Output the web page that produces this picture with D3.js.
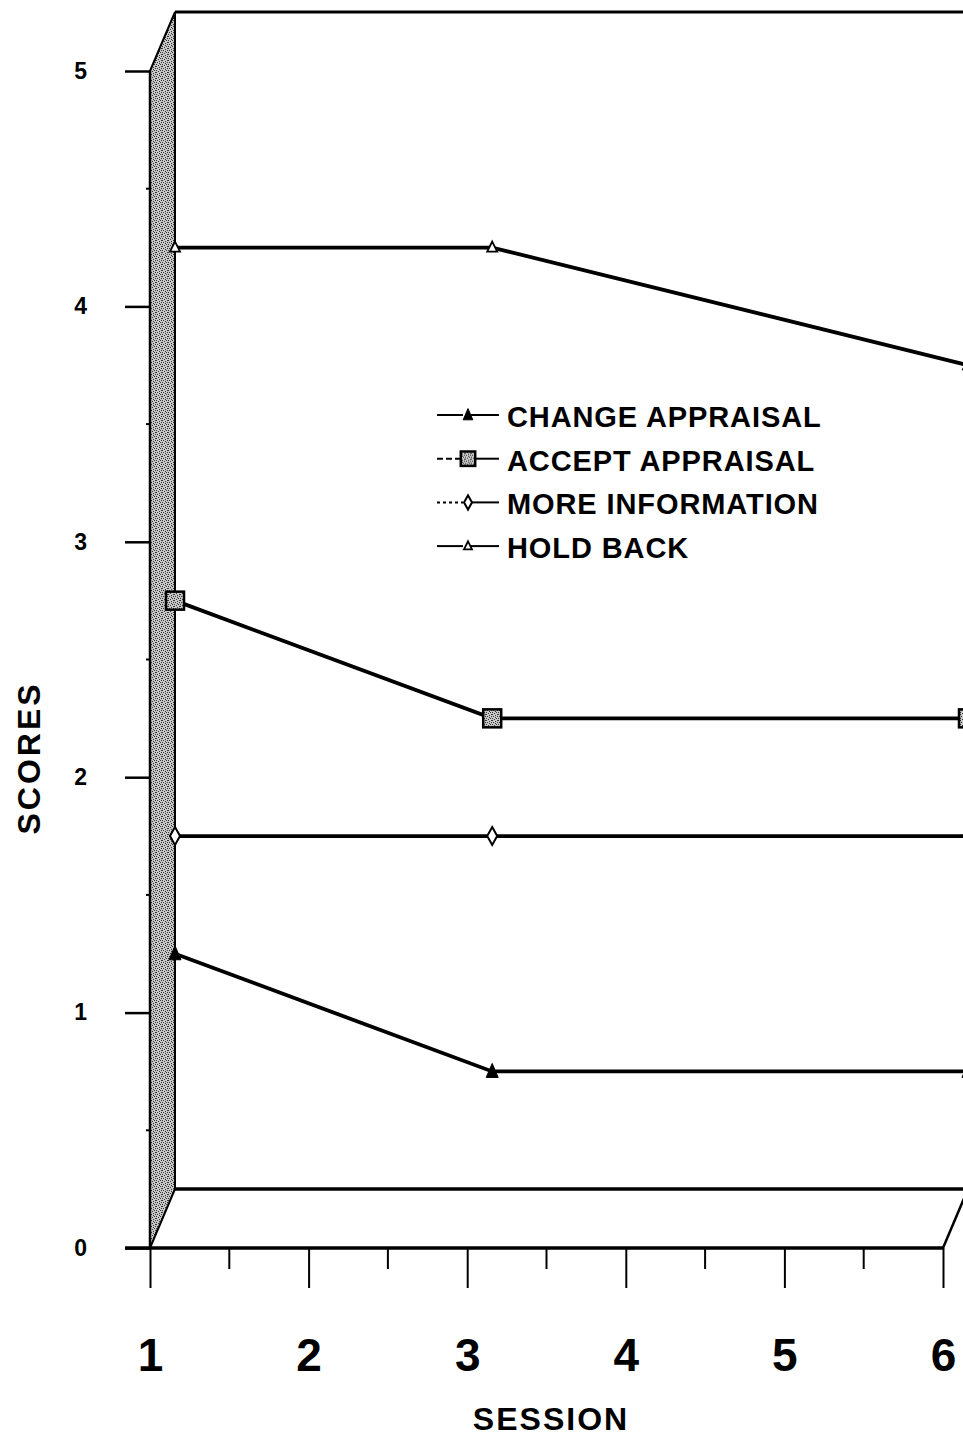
<!DOCTYPE html>
<html>
<head>
<meta charset="utf-8">
<script src="https://cdn.jsdelivr.net/npm/d3@7"></script>
<style>
  html, body { margin: 0; padding: 0; background: #fff; }
  svg { display: block; }
</style>
</head>
<body>
<script>
// Session numbers and mean scores for each response type
const sessions = [1, 3, 6];
const changeAppraisal = [1.25, 0.75, 0.75];
const acceptAppraisal = [2.75, 2.25, 2.25];
const moreInformation = [1.75, 1.75, 1.75];
const holdBack = [4.25, 4.25, 3.75];

const seriesNames = ["CHANGE APPRAISAL", "ACCEPT APPRAISAL", "MORE INFORMATION", "HOLD BACK"];
const xTickValues = [1, 2, 3, 4, 5, 6];
const yTickValues = [0, 1, 2, 3, 4, 5];

const W = 963, H = 1436;
const svg = d3.select("body").append("svg").attr("width", W).attr("height", H);
svg.append("rect").attr("width", W).attr("height", H).attr("fill", "#fff");

const x = d3.scaleLinear().domain([1, 6]).range([150, 943]);
const y = d3.scaleLinear().domain([0, 5]).range([1248, 71]);
// depth offset of the back plane
const DX = 25, DY = -59;

// speckled grey fill for the side wall and square markers
const defs = svg.append("defs");
const pat = defs.append("pattern").attr("id", "stipple")
  .attr("patternUnits", "userSpaceOnUse").attr("width", 6).attr("height", 6);
pat.append("rect").attr("width", 6).attr("height", 6).attr("fill", "#c8c8c8");
[[0,0],[3,1],[1,2],[5,2],[4,4],[2,5],[0,4],[3,3],[5,0]].forEach(([a,b]) =>
  pat.append("rect").attr("x", a).attr("y", b).attr("width", 1).attr("height", 1).attr("fill", "#333"));

const frame = svg.append("g").attr("fill", "none").attr("stroke", "#000");

// left side wall
frame.append("path")
  .attr("d", `M${x(1)},${y(5)} L${x(1)+DX},${y(5)+DY} L${x(1)+DX},${y(0)+DY} L${x(1)},${y(0)} Z`)
  .attr("fill", "url(#stipple)").attr("stroke-width", 2);

// back top edge and back floor edge
frame.append("line").attr("x1", x(1)+DX).attr("x2", W+10)
  .attr("y1", y(5)+DY).attr("y2", y(5)+DY).attr("stroke-width", 3);
frame.append("line").attr("x1", x(1)+DX).attr("x2", W+10)
  .attr("y1", y(0)+DY).attr("y2", y(0)+DY).attr("stroke-width", 3.5);
// floor right edge
frame.append("line").attr("x1", x(6)).attr("x2", x(6)+DX)
  .attr("y1", y(0)).attr("y2", y(0)+DY).attr("stroke-width", 2.5);

// y axis
const yAxis = d3.axisLeft(y).tickValues(yTickValues).tickSize(25).tickPadding(38)
  .tickFormat(d3.format("d"));
const gy = svg.append("g").attr("transform", `translate(${x(1)},0)`).call(yAxis);
gy.select(".domain").remove();
gy.selectAll(".tick line").attr("stroke", "#000").attr("stroke-width", 2.5);
gy.selectAll(".tick text").attr("font-family", "'Liberation Sans Narrow', 'Liberation Sans', Arial, sans-serif")
  .attr("font-weight", "bold").attr("font-size", 23).attr("fill", "#000");
// minor y ticks
svg.append("g").selectAll("line").data(d3.range(0.5, 5, 1)).join("line")
  .attr("x1", x(1) - 4).attr("x2", x(1)).attr("y1", d => y(d)).attr("y2", d => y(d))
  .attr("stroke", "#000").attr("stroke-width", 2);
svg.append("line").attr("x1", x(1)).attr("x2", x(1)).attr("y1", y(5)).attr("y2", y(0))
  .attr("stroke", "#000").attr("stroke-width", 2.5);

// x axis
const xAxis = d3.axisBottom(x).tickValues(xTickValues).tickSize(40).tickPadding(50)
  .tickFormat(d3.format("d"));
const gx = svg.append("g").attr("transform", `translate(0,${y(0)})`).call(xAxis);
gx.select(".domain").attr("d", `M${x(1)-25},0H${x(6)}`).attr("stroke", "#000").attr("stroke-width", 3.5);
gx.selectAll(".tick line").attr("stroke", "#000").attr("stroke-width", 2);
gx.selectAll(".tick text").attr("font-family", "'Liberation Sans Narrow', 'Liberation Sans', Arial, sans-serif")
  .attr("font-weight", "bold").attr("font-size", 46).attr("fill", "#000");
// minor x ticks
svg.append("g").selectAll("line").data(d3.range(1.5, 6, 1)).join("line")
  .attr("x1", d => x(d)).attr("x2", d => x(d)).attr("y1", y(0)).attr("y2", y(0) + 21)
  .attr("stroke", "#000").attr("stroke-width", 2);

// axis titles
svg.append("text").attr("x", 551).attr("y", 1430).attr("text-anchor", "middle")
  .attr("font-family", "'Liberation Sans', Arial, sans-serif").attr("font-weight", "bold")
  .attr("font-size", 32).attr("letter-spacing", 2).text("SESSION");
svg.append("text").attr("transform", "translate(40,758) rotate(-90)").attr("text-anchor", "middle")
  .attr("font-family", "'Liberation Sans', Arial, sans-serif").attr("font-weight", "bold")
  .attr("font-size", 32).attr("letter-spacing", 3).text("SCORES");

// series lines on the back plane
const seriesData = [changeAppraisal, acceptAppraisal, moreInformation, holdBack];
const line = d3.line().x(d => x(d.s) + DX).y(d => y(d.v));
const plot = svg.append("g");

function marker(g, kind, cx, cy, scale) {
  const k = scale || 1;
  if (kind === 0) {
    g.append("path").attr("d", `M${cx},${cy-8*k} L${cx+6*k},${cy+6*k} L${cx-6*k},${cy+6*k} Z`)
      .attr("fill", "#000").attr("stroke", "#000").attr("stroke-width", 1);
  } else if (kind === 1) {
    g.append("rect").attr("x", cx - 9*k).attr("y", cy - 9*k).attr("width", 18*k).attr("height", 18*k)
      .attr("fill", "url(#stipple)").attr("stroke", "#000").attr("stroke-width", 2.5);
  } else if (kind === 2) {
    g.append("path").attr("d", `M${cx},${cy-9*k} L${cx+5*k},${cy} L${cx},${cy+9*k} L${cx-5*k},${cy} Z`)
      .attr("fill", "#fff").attr("stroke", "#000").attr("stroke-width", 2);
  } else {
    g.append("path").attr("d", `M${cx},${cy-6*k} L${cx+5*k},${cy+4*k} L${cx-5*k},${cy+4*k} Z`)
      .attr("fill", "#fff").attr("stroke", "#000").attr("stroke-width", 1.8);
  }
}

seriesData.forEach((vals, i) => {
  const pts = sessions.map((s, j) => ({ s, v: vals[j] }));
  plot.append("path").datum(pts).attr("d", line)
    .attr("fill", "none").attr("stroke", "#000").attr("stroke-width", 3.8);
  pts.forEach(p => marker(plot, i, x(p.s) + DX, y(p.v)));
});

// legend
const legend = svg.append("g").attr("transform", "translate(435,415)");
const dashes = [null, "6,3", "3,3", null];
seriesNames.forEach((name, i) => {
  const gy0 = i * 43.7;
  const r = legend.append("g").attr("transform", `translate(0,${gy0})`);
  r.append("line").attr("x1", 2).attr("x2", 28).attr("y1", 0).attr("y2", 0)
    .attr("stroke", "#000").attr("stroke-width", 2).attr("stroke-dasharray", dashes[i]);
  r.append("line").attr("x1", 36).attr("x2", 64).attr("y1", 0).attr("y2", 0)
    .attr("stroke", "#000").attr("stroke-width", 2);
  marker(r, i, 33, 0, 0.8);
  r.append("text").attr("x", 72).attr("y", 12)
    .attr("font-family", "'Liberation Sans', Arial, sans-serif").attr("font-weight", "bold")
    .attr("font-size", 29).attr("letter-spacing", 0.9).attr("fill", "#000").text(name);
});
</script>
</body>
</html>
